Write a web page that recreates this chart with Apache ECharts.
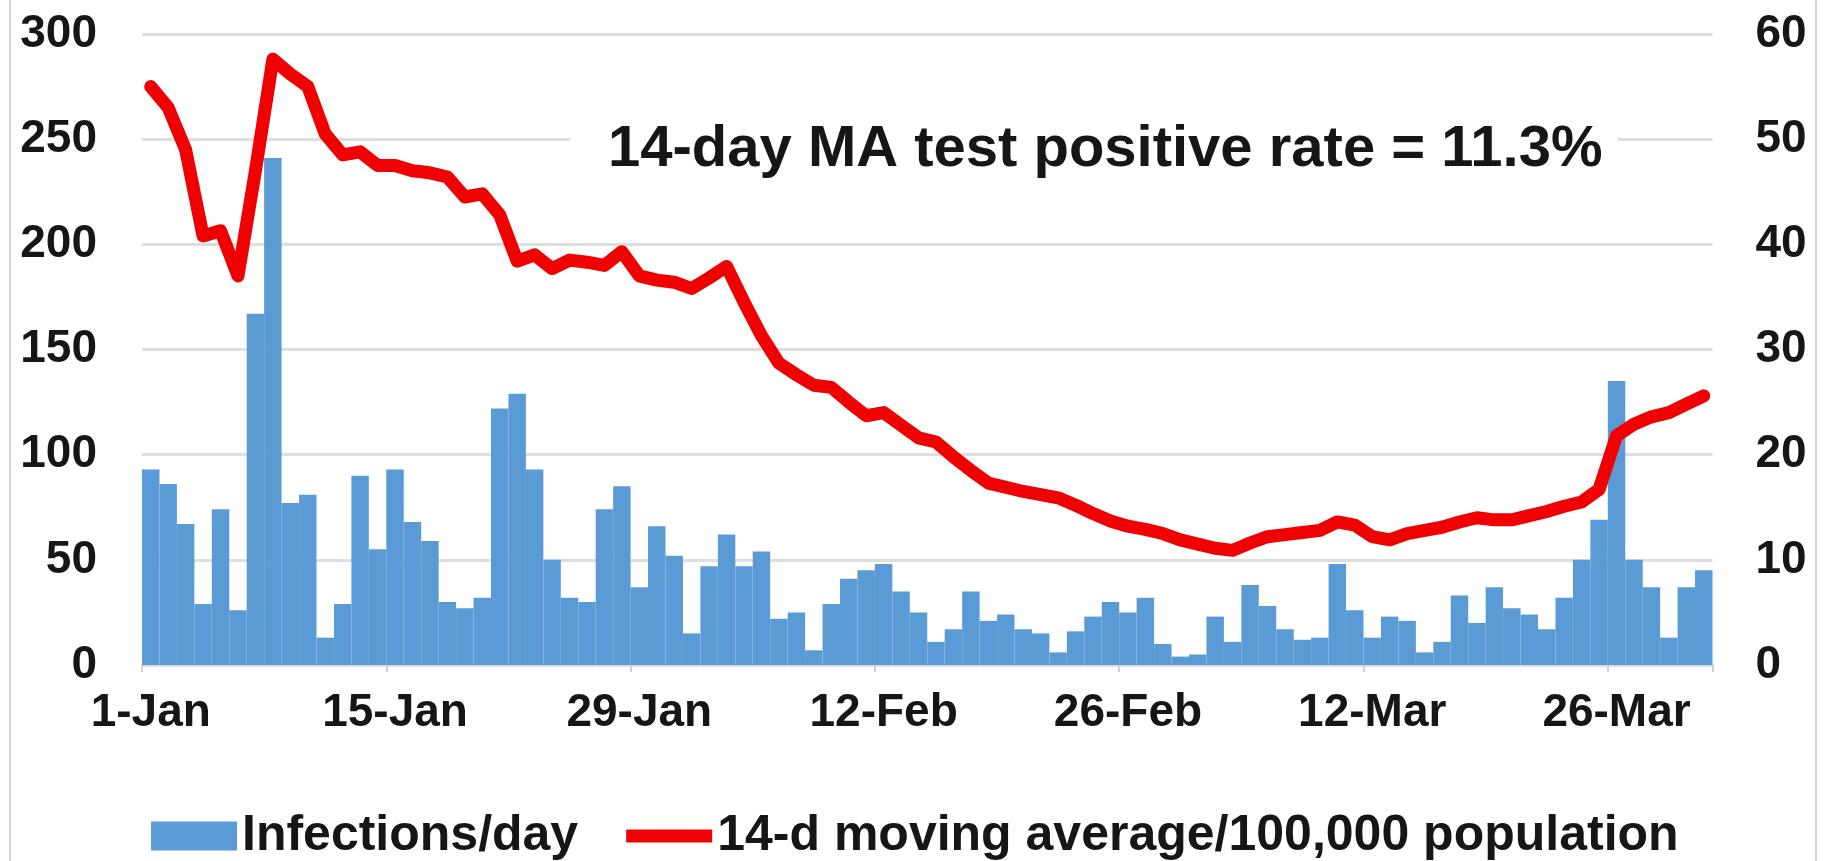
<!DOCTYPE html>
<html>
<head>
<meta charset="utf-8">
<script src="https://cdn.jsdelivr.net/npm/echarts@6/dist/echarts.min.js"></script>
<style>
  html, body { margin: 0; padding: 0; background: #fff; }
  #chart { width: 1825px; height: 861px; }
</style>
</head>
<body>
<div id="chart"></div>
<script>
// 日期: 1-Jan ~ 31-Mar
const months = ['Jan', 'Feb', 'Mar'];
const monthDays = [31, 28, 31];
const days = [];
months.forEach((m, k) => {
  for (let d = 1; d <= monthDays[k]; d++) days.push(d + '-' + m);
});

// 每日感染数 (左轴)
const infections = [
  93, 86, 67, 29, 74, 26, 167, 241, 77, 81,
  13, 29, 90, 55, 93, 68, 59, 30, 27, 32,
  122, 129, 93, 50, 32, 30, 74, 85, 37, 66,
  52, 15, 47, 62, 47, 54, 22, 25, 7, 29,
  41, 45, 48, 35, 25, 11, 17, 35, 21, 24,
  17, 15, 6, 16, 23, 30, 25, 32, 10, 4,
  5, 23, 11, 38, 28, 17, 12, 13, 48, 26,
  13, 23, 21, 6, 11, 33, 20, 37, 27, 24,
  17, 32, 50, 69, 135, 50, 37, 13, 37, 45
];

// 14天移动平均 /100,000 (右轴)
const movingAvg = [
  55.0, 53.0, 49.0, 40.8, 41.3, 37.0, 47.0, 57.6, 56.2, 55.0,
  50.5, 48.5, 48.8, 47.5, 47.5, 47.0, 46.8, 46.4, 44.5, 44.8,
  42.8, 38.4, 39.0, 37.7, 38.5, 38.3, 38.0, 39.3, 37.0, 36.6,
  36.4, 35.8, 36.8, 37.9, 34.5, 31.3, 28.7, 27.6, 26.6, 26.4,
  25.0, 23.7, 24.0, 22.8, 21.6, 21.2, 19.8, 18.5, 17.3, 16.9,
  16.5, 16.2, 15.9, 15.2, 14.4, 13.7, 13.2, 12.9, 12.5, 11.9,
  11.5, 11.1, 10.9, 11.6, 12.2, 12.4, 12.6, 12.8, 13.6, 13.3,
  12.2, 11.9, 12.5, 12.8, 13.1, 13.6, 14.0, 13.8, 13.8, 14.2,
  14.6, 15.1, 15.5, 16.7, 21.8, 22.9, 23.6, 24.0, 24.8, 25.6
];

const barName = 'Infections/day';
const lineName = '14-d moving average/100,000 population';
const note = '14-day MA test positive rate = 11.3%';

const FONT = '"Liberation Sans", Arial, sans-serif';
const TEXT = '#161616';

const chart = echarts.init(document.getElementById('chart'));

const option = {
  backgroundColor: '#fff',
  animation: false,
  grid: { left: 142, right: 112.5, top: 34, bottom: 196 },
  legend: {
    left: 151,
    top: 811,
    padding: 0,
    itemWidth: 86,
    itemHeight: 29,
    itemGap: 48,
    textStyle: { fontSize: 50, fontWeight: 'bold', color: TEXT, fontFamily: FONT },
    data: [
      { name: barName, icon: 'rect' },
      // 细长红条, 用角点撑开包围盒
      { name: lineName, icon: 'path://M0,0M86,29M0,8L86,8L86,21L0,21Z' }
    ]
  },
  xAxis: {
    type: 'category',
    data: days,
    boundaryGap: true,
    axisLine: { show: true, lineStyle: { color: '#d9d9d9', width: 2 } },
    axisTick: { show: true, interval: 13, length: 7, lineStyle: { color: '#d0d0d0', width: 2 } },
    axisLabel: {
      interval: 13,
      margin: 25,
      fontSize: 46,
      fontWeight: 'bold',
      color: TEXT,
      fontFamily: FONT
    }
  },
  yAxis: [
    {
      type: 'value',
      min: 0,
      max: 300,
      interval: 50,
      axisLine: { show: false },
      axisTick: { show: false },
      splitLine: { lineStyle: { color: '#dedede', width: 3 } },
      axisLabel: { margin: 45, fontSize: 46, fontWeight: 'bold', color: TEXT, fontFamily: FONT }
    },
    {
      type: 'value',
      min: 0,
      max: 60,
      interval: 10,
      axisLine: { show: false },
      axisTick: { show: false },
      splitLine: { show: false },
      axisLabel: { margin: 43, fontSize: 46, fontWeight: 'bold', color: TEXT, fontFamily: FONT }
    }
  ],
  series: [
    {
      name: barName,
      type: 'bar',
      yAxisIndex: 0,
      data: infections,
      barCategoryGap: '0%',
      itemStyle: { color: '#5b9bd5' }
    },
    {
      name: lineName,
      type: 'line',
      yAxisIndex: 1,
      data: movingAvg,
      symbol: 'none',
      smooth: false,
      lineStyle: { color: '#f00000', width: 13, cap: 'round', join: 'round' },
      itemStyle: { color: '#f00000' },
      z: 3
    }
  ],
  graphic: [
    // 外框
    {
      type: 'rect',
      shape: { x: 10, y: -5, width: 1806, height: 880 },
      style: { fill: 'none', stroke: '#d4d4d4', lineWidth: 2 },
      silent: true,
      z: 0
    },
    // 标注文字 (白底遮住网格线)
    {
      type: 'text',
      x: 570,
      y: 150,
      z: 10,
      style: {
        text: note,
        fill: TEXT,
        font: 'bold 58px ' + FONT,
        align: 'left',
        verticalAlign: 'middle',
        textAlign: 'left',
        textVerticalAlign: 'middle',
        backgroundColor: '#fff',
        padding: [2, 15, 2, 38]
      }
    }
  ]
};

chart.setOption(option);
</script>
</body>
</html>
